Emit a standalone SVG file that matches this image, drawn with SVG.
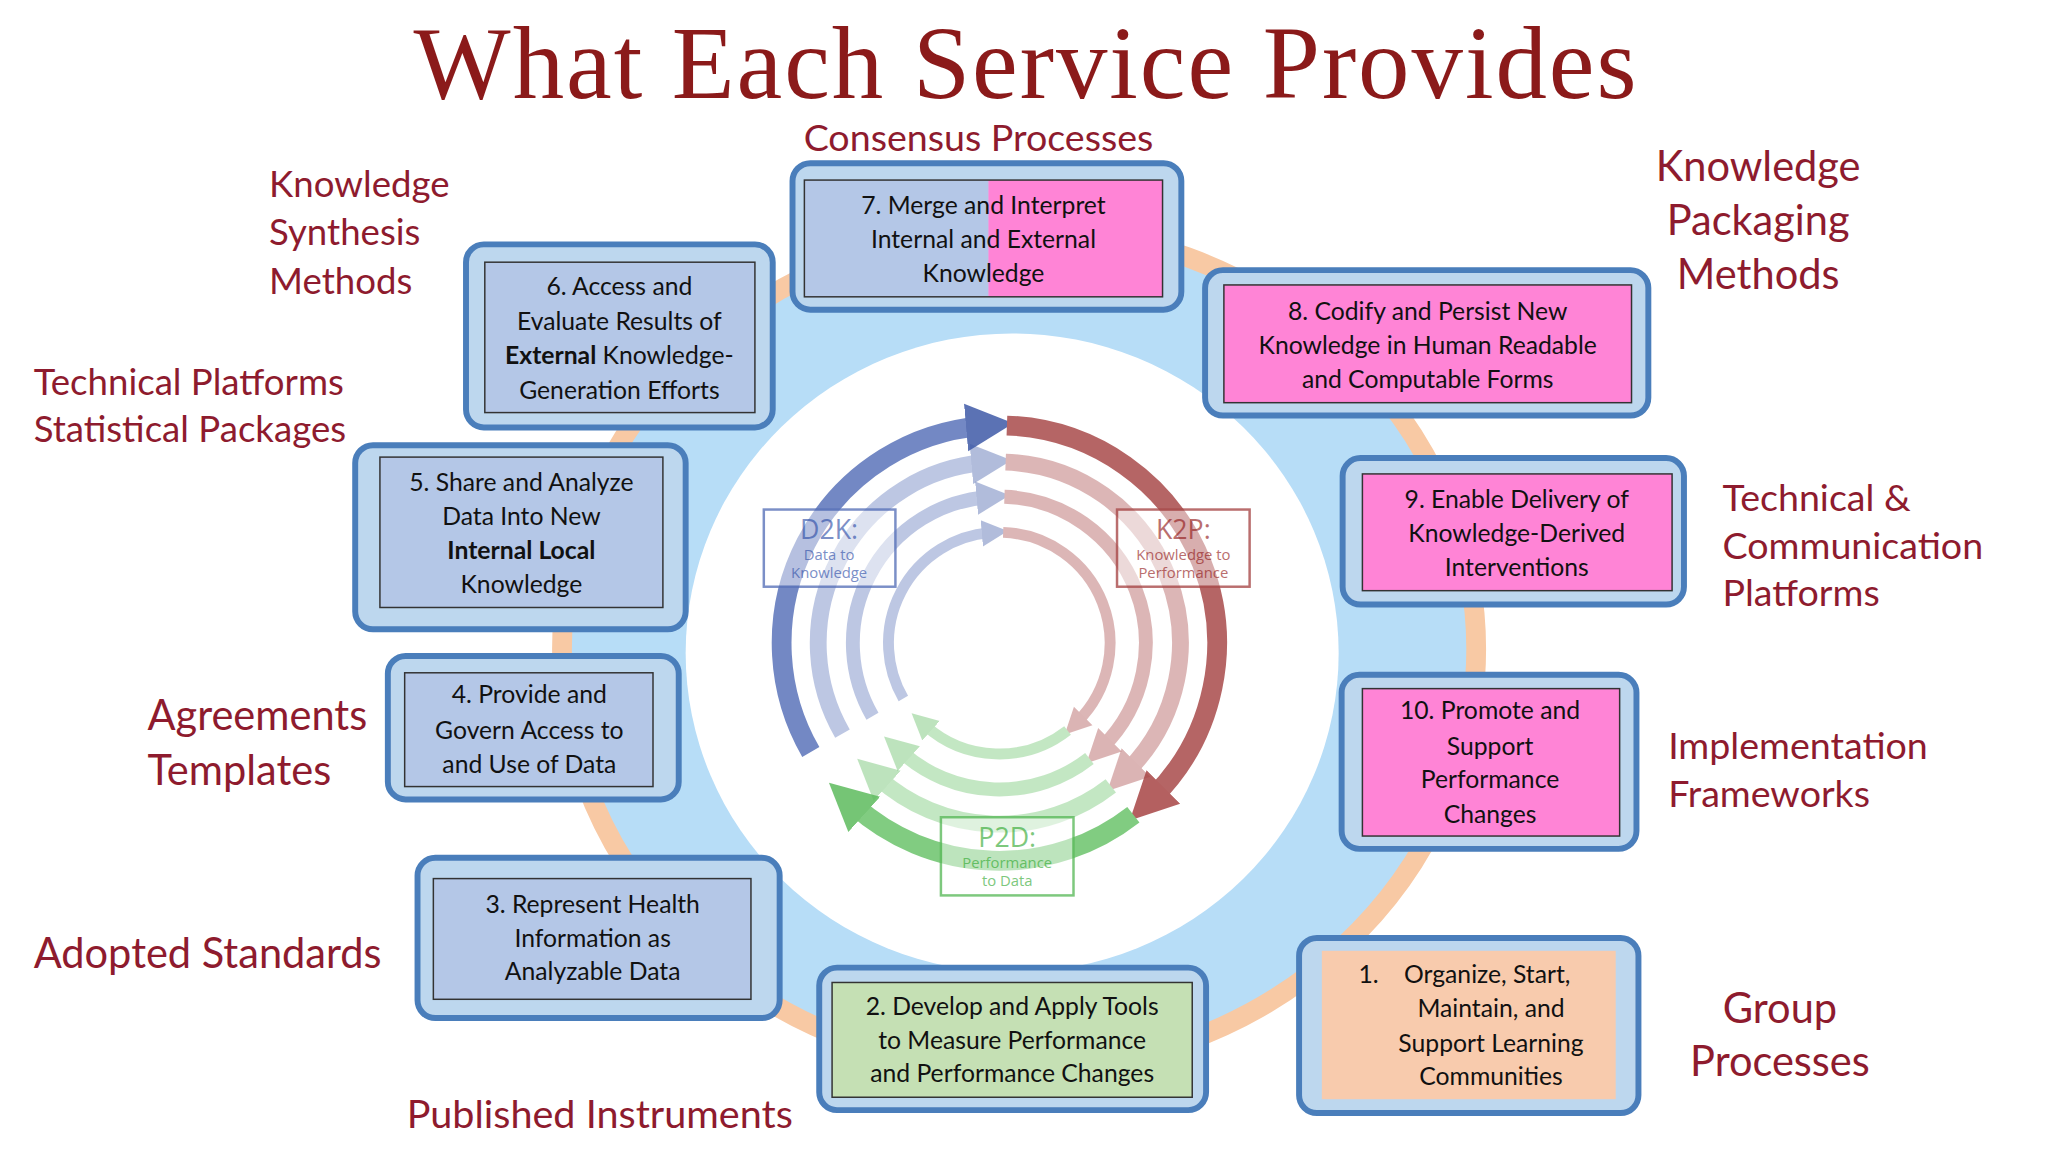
<svg xmlns="http://www.w3.org/2000/svg" width="2048" height="1152" viewBox="0 0 2048 1152">
<style>
.lbl{font-family:Lato,"Open Sans","Liberation Sans",sans-serif;fill:#8E1B2E}
.bt{font-family:Lato,"Open Sans","Liberation Sans",sans-serif;font-size:25px;fill:#111;text-anchor:middle}
.st{text-anchor:start}
.outer{fill:#BDD7EE;stroke:#4A7EBB;stroke-width:6}
.inner{stroke:#333;stroke-width:1.5}
.bl{fill:#B4C7E7}.pk{fill:#FF84D6}.gr{fill:#C5E0B4}.pe{fill:#F8CBAD}
.ring{fill:none}
.lb{font-family:"Open Sans","Liberation Sans",sans-serif;text-anchor:middle}
</style>
<defs>
<marker id="ab" viewBox="0 0 10 10" refX="3" refY="5" markerWidth="2.4" markerHeight="2.8" orient="auto"><path d="M0,0L10,5L0,10z" fill="#3F5AA8"/></marker>
<marker id="ar" viewBox="0 0 10 10" refX="3" refY="5" markerWidth="2.4" markerHeight="2.8" orient="auto"><path d="M0,0L10,5L0,10z" fill="#A84545"/></marker>
<marker id="ag" viewBox="0 0 10 10" refX="3" refY="5" markerWidth="2.4" markerHeight="2.8" orient="auto"><path d="M0,0L10,5L0,10z" fill="#5DBB5D"/></marker>
</defs>
<rect width="2048" height="1152" fill="#fff"/>
<g transform="scale(0.9894)">
<text x="1036" y="99" text-anchor="middle" font-family="'Liberation Serif',serif" font-size="104" fill="#8B1A1A" textLength="1236">What Each Service Provides</text>
<ellipse cx="1030" cy="656" rx="462" ry="426" fill="#B7DDF7" stroke="#F8C9A4" stroke-width="20"/>
<ellipse cx="1023" cy="660" rx="330" ry="323" fill="#fff"/>
<g id="cycle">
<g opacity="0.85" stroke-width="20" class="ring">
<path d="M819.5,760 A220,220 0 0 1 990.8,430.8" stroke="#5B74BA" marker-end="url(#ab)"/>
<path d="M1017.7,430.1 A220,220 0 0 1 1165.6,805.6" stroke="#A94B4B" marker-end="url(#ar)"/>
<path d="M1145.5,823.4 A220,220 0 0 1 862.8,813.5" stroke="#6CC46C" marker-end="url(#ag)"/>
</g>
<g opacity="0.4" stroke-width="17" class="ring">
<path d="M851.5,741.5 A183,183 0 0 1 994,467.7" stroke="#5B74BA" marker-end="url(#ab)"/>
<path d="M1016.4,467.1 A183,183 0 0 1 1139.4,779.4" stroke="#A94B4B" marker-end="url(#ar)"/>
<path d="M1122.7,794.2 A183,183 0 0 1 887.6,786" stroke="#6CC46C" marker-end="url(#ag)"/>
</g>
<g opacity="0.4" stroke-width="14" class="ring">
<path d="M881.8,724 A148,148 0 0 1 997.1,502.6" stroke="#5B74BA" marker-end="url(#ab)"/>
<path d="M1015.2,502.1 A148,148 0 0 1 1114.7,754.7" stroke="#A94B4B" marker-end="url(#ar)"/>
<path d="M1101.1,766.6 A148,148 0 0 1 911,760" stroke="#6CC46C" marker-end="url(#ag)"/>
</g>
<g opacity="0.4" stroke-width="11" class="ring">
<path d="M913,706 A112,112 0 0 1 1000.2,538.4" stroke="#5B74BA" marker-end="url(#ab)"/>
<path d="M1013.9,538.1 A112,112 0 0 1 1089.2,729.2" stroke="#A94B4B" marker-end="url(#ar)"/>
<path d="M1079,738.3 A112,112 0 0 1 935.1,733.2" stroke="#6CC46C" marker-end="url(#ag)"/>
</g>
<g opacity="0.8">
<rect x="772" y="515" width="133" height="78" fill="#fff" fill-opacity="0.6" stroke="#5B74BA" stroke-width="2.5"/>
<text class="lb" x="838" y="545" font-size="27" fill="#5B74BA">D2K:</text>
<text class="lb" x="838" y="566" font-size="15" fill="#5B74BA">Data to</text>
<text class="lb" x="838" y="584" font-size="15" fill="#5B74BA">Knowledge</text>
<rect x="1129" y="515" width="134" height="78" fill="#fff" fill-opacity="0.6" stroke="#A94B4B" stroke-width="2.5"/>
<text class="lb" x="1196" y="545" font-size="27" fill="#A94B4B">K2P:</text>
<text class="lb" x="1196" y="566" font-size="15" fill="#A94B4B">Knowledge to</text>
<text class="lb" x="1196" y="584" font-size="15" fill="#A94B4B">Performance</text>
<rect x="951" y="826" width="134" height="79" fill="#fff" fill-opacity="0.6" stroke="#5DBB5D" stroke-width="2.5"/>
<text class="lb" x="1018" y="856" font-size="27" fill="#5DBB5D">P2D:</text>
<text class="lb" x="1018" y="877" font-size="15" fill="#5DBB5D">Performance</text>
<text class="lb" x="1018" y="895" font-size="15" fill="#5DBB5D">to Data</text>
</g>
</g>
<g id="n7"><rect class="outer" x="801" y="165" width="393" height="148" rx="18"/><rect class="bl" x="813" y="182" width="186" height="118"/><rect class="pk" x="999" y="182" width="176" height="118"/><rect class="inner" fill="none" x="813" y="182" width="362" height="118"/>
<text class="bt" x="994" y="216">7. Merge and Interpret</text><text class="bt" x="994" y="251">Internal and External</text><text class="bt" x="994" y="285">Knowledge</text></g>
<g id="n6"><rect class="outer" x="471" y="247" width="310" height="185" rx="18"/><rect class="inner bl" x="490" y="265" width="273" height="152"/>
<text class="bt" x="626" y="298">6. Access and</text><text class="bt" x="626" y="334">Evaluate Results of</text><text class="bt" x="626" y="368"><tspan font-weight="bold">External</tspan> Knowledge-</text><text class="bt" x="626" y="403">Generation Efforts</text></g>
<g id="n5"><rect class="outer" x="359" y="450" width="334" height="186" rx="18"/><rect class="inner bl" x="384" y="462" width="286" height="152"/>
<text class="bt" x="527" y="496">5. Share and Analyze</text><text class="bt" x="527" y="531">Data Into New</text><text class="bt" x="527" y="565" font-weight="bold">Internal Local</text><text class="bt" x="527" y="599">Knowledge</text></g>
<g id="n4"><rect class="outer" x="392" y="663" width="294" height="145" rx="18"/><rect class="inner bl" x="409" y="680" width="251" height="115"/>
<text class="bt" x="535" y="711">4. Provide and</text><text class="bt" x="535" y="747">Govern Access to</text><text class="bt" x="535" y="781">and Use of Data</text></g>
<g id="n3"><rect class="outer" x="422" y="867" width="366" height="162" rx="18"/><rect class="inner bl" x="438" y="888" width="321" height="122"/>
<text class="bt" x="599" y="923">3. Represent Health</text><text class="bt" x="599" y="957">Information as</text><text class="bt" x="599" y="991">Analyzable Data</text></g>
<g id="n2"><rect class="outer" x="828" y="978" width="391" height="144" rx="18"/><rect class="inner gr" x="841" y="993" width="364" height="116"/>
<text class="bt" x="1023" y="1026">2. Develop and Apply Tools</text><text class="bt" x="1023" y="1060">to Measure Performance</text><text class="bt" x="1023" y="1094">and Performance Changes</text></g>
<g id="n1"><rect class="outer" x="1313" y="948" width="343" height="177" rx="18"/><rect class="pe" x="1336" y="961" width="297" height="150"/>
<text class="bt st" x="1373" y="994">1.</text><text class="bt st" x="1419" y="994">Organize, Start,</text><text class="bt" x="1507" y="1028">Maintain, and</text><text class="bt" x="1507" y="1063">Support Learning</text><text class="bt" x="1507" y="1097">Communities</text></g>
<g id="n10"><rect class="outer" x="1356" y="682" width="298" height="176" rx="18"/><rect class="inner pk" x="1377" y="696" width="260" height="149"/>
<text class="bt" x="1506" y="727">10. Promote and</text><text class="bt" x="1506" y="763">Support</text><text class="bt" x="1506" y="796">Performance</text><text class="bt" x="1506" y="832">Changes</text></g>
<g id="n9"><rect class="outer" x="1357" y="463" width="345" height="148" rx="18"/><rect class="inner pk" x="1377" y="479" width="313" height="118"/>
<text class="bt" x="1533" y="513">9. Enable Delivery of</text><text class="bt" x="1533" y="548">Knowledge-Derived</text><text class="bt" x="1533" y="582">Interventions</text></g>
<g id="n8"><rect class="outer" x="1218" y="273" width="448" height="147" rx="18"/><rect class="inner pk" x="1237" y="288" width="412" height="119"/>
<text class="bt" x="1443" y="323">8. Codify and Persist New</text><text class="bt" x="1443" y="358">Knowledge in Human Readable</text><text class="bt" x="1443" y="392">and Computable Forms</text></g>
<g id="labels">
<text class="lbl" x="989" y="153" font-size="38" text-anchor="middle">Consensus Processes</text>
<text class="lbl" font-size="37"><tspan x="272" y="199">Knowledge</tspan><tspan x="272" y="248">Synthesis</tspan><tspan x="272" y="297">Methods</tspan></text>
<text class="lbl" font-size="37"><tspan x="34" y="399">Technical Platforms</tspan><tspan x="34" y="447">Statistical Packages</tspan></text>
<text class="lbl" font-size="42"><tspan x="149" y="738">Agreements</tspan><tspan x="149" y="793">Templates</tspan></text>
<text class="lbl" font-size="42" x="34" y="978">Adopted Standards</text>
<text class="lbl" font-size="40" x="411" y="1140">Published Instruments</text>
<text class="lbl" font-size="42" text-anchor="middle"><tspan x="1799" y="1034">Group</tspan><tspan x="1799" y="1088">Processes</tspan></text>
<text class="lbl" font-size="38"><tspan x="1686" y="767">Implementation</tspan><tspan x="1686" y="816">Frameworks</tspan></text>
<text class="lbl" font-size="38"><tspan x="1741" y="516">Technical &amp;</tspan><tspan x="1741" y="565">Communication</tspan><tspan x="1741" y="612">Platforms</tspan></text>
<text class="lbl" font-size="42" text-anchor="middle"><tspan x="1777" y="183">Knowledge</tspan><tspan x="1777" y="238">Packaging</tspan><tspan x="1777" y="292">Methods</tspan></text>
</g>
</g>
</svg>
